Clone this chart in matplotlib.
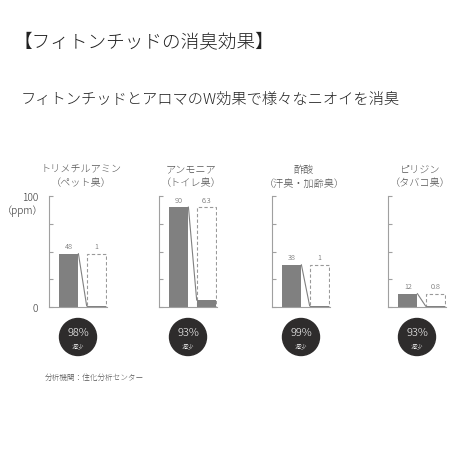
import matplotlib.pyplot as plt
from matplotlib.patches import Circle

plt.rcParams['font.family'] = ['Noto Sans CJK JP', 'DejaVu Sans']
plt.rcParams['font.weight'] = 'light'

# === data ===
names = ["トリメチルアミン", "アンモニア", "酢酸", "ピリジン"]
subnames = ["（ペット臭）", "（トイレ臭）", "（汗臭・加齢臭）", "（タバコ臭）"]
before = [48, 90, 38, 12]
after = [1, 6.3, 1, 0.8]
after_labels = ["1", "6.3", "1", "0.8"]
reduction = ["98%", "93%", "99%", "93%"]

W = H = 460
fig = plt.figure(figsize=(4.6, 4.6), dpi=100)

def fx(px):
    return px / W

def fy(py):
    return 1 - py / H

# === titles ===
fig.text(fx(14), fy(42), "【フィトンチッドの消臭効果】", fontsize=13.4, color='#222222', va='center')
fig.text(fx(21), fy(100), "フィトンチッドとアロマのW効果で様々なニオイを消臭", fontsize=11, color='#222222', va='center')

gray_bar = '#808080'
axis_col = '#a0a0a0'
text_col = '#555555'
lefts = [49, 159, 272, 388]
ax_w, ax_top, ax_bot = 58, 197, 308

for i, left in enumerate(lefts):
    ax = fig.add_axes([fx(left), fy(ax_bot), fx(ax_w), (ax_bot - ax_top) / H])
    ax.bar(0, before[i], width=0.7, color=gray_bar)
    ax.bar(1, before[i], width=0.7, fill=False, edgecolor='#999999', linestyle=(0, (3, 2)), linewidth=0.8)
    ax.bar(1, after[i], width=0.7, color=gray_bar)
    ax.plot([0.35, 0.65], [before[i], after[i]], color=gray_bar, linewidth=0.8)
    ax.text(0, before[i] + 3, str(before[i]), ha='center', va='bottom', fontsize=5.3, color=text_col)
    ax.text(1, before[i] + 3, after_labels[i], ha='center', va='bottom', fontsize=5.3, color=text_col)
    ax.set_xlim(-0.72, 1.39)
    ax.set_ylim(0, 100)
    ax.set_xticks([])
    ax.set_yticks([0, 25, 50, 75, 100])
    ax.tick_params(axis='y', direction='in', length=3, color=axis_col, labelsize=7.3, labelcolor='#333333', pad=8)
    if i == 0:
        ax.set_yticklabels(['0', '', '', '', '100'])
        ax.text(-0.72 - 0.95, 87, "（ppm）", ha='center', va='center', fontsize=7.3, color='#333333')
    else:
        ax.set_yticklabels([])
    for s in ['top', 'right']:
        ax.spines[s].set_visible(False)
    for s in ['left', 'bottom']:
        ax.spines[s].set_color(axis_col)
        ax.spines[s].set_linewidth(0.8)
    ax.patch.set_alpha(0)

    # panel title
    cx = left + 32
    fig.text(fx(cx), fy(170), names[i], ha='center', va='center', fontsize=7.3, color=text_col)
    fig.text(fx(cx), fy(184), subnames[i], ha='center', va='center', fontsize=7.3, color=text_col)

    # reduction badge
    ccx = left + 29
    fig.add_artist(Circle((fx(ccx), fy(338)), 18.5 / W, transform=fig.transFigure, color='#2e2c2c'))
    fig.text(fx(ccx), fy(333), reduction[i], ha='center', va='center', fontsize=8, color='white')
    fig.text(fx(ccx), fy(346), "減少", ha='center', va='center', fontsize=4.5, color='white')

fig.text(fx(45), fy(378), "分析機関：住化分析センター", fontsize=5.5, color=text_col, va='center')

fig.savefig("out.png", dpi=100, facecolor='white')
